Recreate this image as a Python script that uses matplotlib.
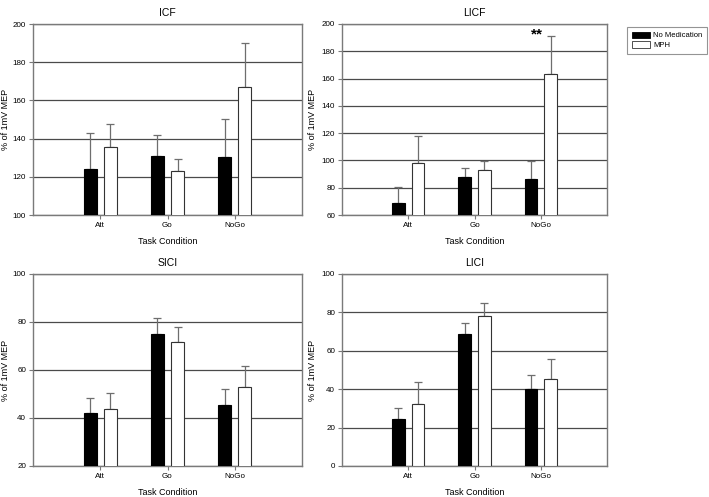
import matplotlib
matplotlib.use("Agg")
import matplotlib.pyplot as plt
import numpy as np
from matplotlib.patches import Patch

plt.rcParams['font.family'] = ['Liberation Sans', 'DejaVu Sans']

categories = ["Att", "Go", "NoGo"]
series_names = ["No Medication", "MPH"]

icf_nomed = [124.1, 130.9, 130.5]
icf_nomed_err = [18.7, 11.1, 19.8]
icf_mph = [135.4, 122.9, 166.8]
icf_mph_err = [12.1, 6.6, 23.4]

licf_nomed = [68.6, 88.1, 86.1]
licf_nomed_err = [12.2, 6.4, 13.7]
licf_mph = [97.9, 93.0, 163.4]
licf_mph_err = [20.0, 6.8, 27.8]

sici_nomed = [42.2, 75.1, 45.6]
sici_nomed_err = [6.0, 6.5, 6.5]
sici_mph = [43.6, 71.6, 53.1]
sici_mph_err = [7.0, 6.3, 8.4]

lici_nomed = [24.7, 68.5, 40.1]
lici_nomed_err = [5.3, 6.1, 7.1]
lici_mph = [32.1, 78.0, 45.3]
lici_mph_err = [11.5, 6.7, 10.4]

panels = [
    ("ICF", icf_nomed, icf_nomed_err, icf_mph, icf_mph_err, (100, 200)),
    ("LICF", licf_nomed, licf_nomed_err, licf_mph, licf_mph_err, (60, 200)),
    ("SICI", sici_nomed, sici_nomed_err, sici_mph, sici_mph_err, (20, 100)),
    ("LICI", lici_nomed, lici_nomed_err, lici_mph, lici_mph_err, (0, 100)),
]

W, H = 709, 497
fig = plt.figure(figsize=(W / 100, H / 100), dpi=100)

# axes boxes in pixels: left, top, right, bottom
boxes = [(33, 24, 302, 215), (342, 24, 607, 215),
         (33, 274, 302, 466), (342, 274, 607, 466)]

spine_col = "#7a7a7a"
grid_col = "#4a4a4a"
err_col = "#6e6e6e"
bw = 0.19
off = 0.15

axes = []
for (title, nm, nme, mp, mpe, ylim), (l, t, r, b) in zip(panels, boxes):
    ax = fig.add_axes([l / W, 1 - b / H, (r - l) / W, (b - t) / H])
    axes.append(ax)
    x = np.arange(len(categories))
    ax.bar(x - off, nm, bw, color="black", edgecolor="black",
           linewidth=0.8, zorder=3)
    ax.bar(x + off, mp, bw, color="white", edgecolor="#333333",
           linewidth=0.8, zorder=3)
    ax.errorbar(x - off, nm, yerr=[np.zeros(3), nme], fmt="none",
                ecolor=err_col, elinewidth=0.9, capsize=3, capthick=0.9, zorder=2)
    ax.errorbar(x + off, mp, yerr=[np.zeros(3), mpe], fmt="none",
                ecolor=err_col, elinewidth=0.9, capsize=3, capthick=0.9, zorder=2)
    ax.set_xlim(-1, 3)
    ax.set_ylim(*ylim)
    ax.set_yticks(np.arange(ylim[0], ylim[1] + 1, 20))
    ax.set_xticks(x)
    ax.set_xticklabels(categories)
    ax.yaxis.grid(True, color=grid_col, linewidth=0.9, zorder=0)
    ax.set_axisbelow(True)
    for s in ax.spines.values():
        s.set_color(spine_col)
        s.set_linewidth(1.0)
    ax.tick_params(axis="both", labelsize=5.8, length=3, width=0.8,
                   color=spine_col, pad=2)
    ax.set_title(title, fontsize=7.5, pad=6)
    ax.set_xlabel("Task Condition", fontsize=6.5, labelpad=6)
    ax.set_ylabel("% of 1mV MEP", fontsize=6.5)
    if l < 100:
        ax.yaxis.set_label_coords((10 - l) / (r - l), 0.5)
    else:
        ax.yaxis.set_label_coords((317 - l) / (r - l), 0.5)

# significance marker on LICF NoGo
axes[1].text(2 - 0.05, 189.5, "**", ha="center",
             va="baseline", fontsize=11, fontweight="bold")

handles = [Patch(facecolor="black", edgecolor="black", linewidth=0.6),
           Patch(facecolor="white", edgecolor="#333333", linewidth=0.6)]
leg = fig.legend(handles, series_names, loc="upper left",
                 bbox_to_anchor=(627 / W, 1 - 27 / H), fontsize=5.5,
                 frameon=True, fancybox=False, borderpad=0.6,
                 handlelength=2.4, handleheight=0.9, handletextpad=0.4,
                 labelspacing=0.25, borderaxespad=0)
leg.get_frame().set_edgecolor(spine_col)
leg.get_frame().set_linewidth(0.8)

fig.savefig("out.png", dpi=100)
